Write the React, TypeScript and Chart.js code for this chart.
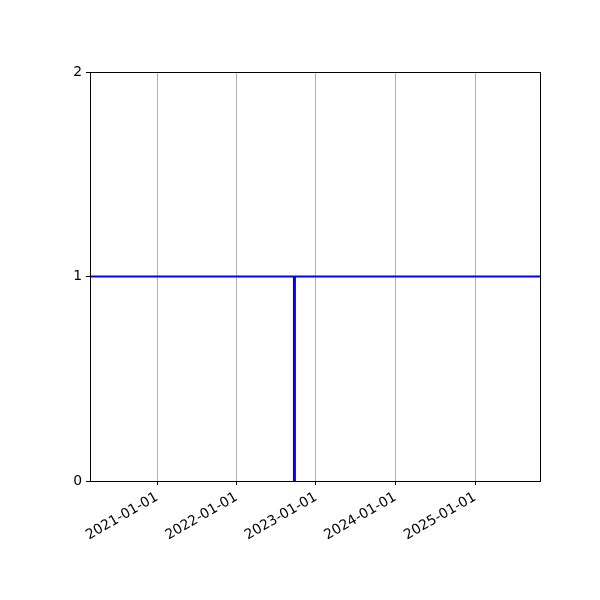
import React, { useEffect, useRef } from "react";
import { Chart, registerables } from "chart.js";

Chart.register(...registerables);

const xRange = ["2020-02-28", "2025-10-26"];
const tickDates = ["2021-01-01", "2022-01-01", "2023-01-01", "2024-01-01", "2025-01-01"];
const eventDate = "2022-09-24";
const baseLevel = 1;
const eventRange = [0, 1];
const yTicks = [0, 1, 2];

const ms = (d: string) => Date.parse(d + "T00:00:00Z");
const fmt = (v: number) => new Date(v).toISOString().slice(0, 10);

const FONT = "'DejaVu Sans', sans-serif";

const framePlugin = {
  id: "frame",
  afterDraw(chart: any) {
    const { ctx, chartArea } = chart;
    ctx.save();
    ctx.strokeStyle = "#000";
    ctx.lineWidth = 1;
    ctx.strokeRect(
      Math.round(chartArea.left) + 0.5,
      Math.round(chartArea.top) + 0.5,
      Math.round(chartArea.right - chartArea.left),
      Math.round(chartArea.bottom - chartArea.top)
    );
    ctx.restore();
  },
};

export default function App() {
  const ref = useRef<HTMLCanvasElement | null>(null);
  useEffect(() => {
    if (!ref.current) return;
    const xmin = ms(xRange[0]);
    const xmax = ms(xRange[1]);
    const chart = new Chart(ref.current, {
      type: "line",
      data: {
        datasets: [
          {
            data: [
              { x: xmin, y: baseLevel },
              { x: xmax, y: baseLevel },
            ],
            borderColor: "#0000ff",
            borderWidth: 2,
            pointRadius: 0,
          },
          {
            data: [
              { x: ms(eventDate), y: eventRange[0] },
              { x: ms(eventDate), y: eventRange[1] },
            ],
            borderColor: "#0000ff",
            borderWidth: 3,
            pointRadius: 0,
          },
        ],
      },
      options: {
        animation: false,
        responsive: false,
        devicePixelRatio: 1,
        layout: { padding: { top: 72, right: 60, left: 0, bottom: 0 } },
        plugins: { legend: { display: false }, tooltip: { enabled: false } },
        scales: {
          x: {
            type: "linear",
            min: xmin,
            max: xmax,
            afterBuildTicks: (s: any) => {
              s.ticks = tickDates.map((d) => ({ value: ms(d) }));
            },
            afterFit: (s: any) => {
              s.height = 119;
            },
            ticks: {
              callback: (v: any) => fmt(Number(v)),
              minRotation: 30,
              maxRotation: 30,
              color: "#000",
              padding: 4,
              font: { family: FONT, size: 13.9 },
            },
            grid: {
              color: "#b0b0b0",
              lineWidth: 1,
              tickColor: "#000",
              tickLength: 4,
            },
            border: { display: true, color: "#000" },
          },
          y: {
            type: "linear",
            min: yTicks[0],
            max: yTicks[yTicks.length - 1],
            afterBuildTicks: (s: any) => {
              s.ticks = yTicks.map((v) => ({ value: v }));
            },
            afterFit: (s: any) => {
              s.width = 90;
            },
            ticks: {
              color: "#000",
              padding: 4,
              font: { family: FONT, size: 13.9 },
            },
            grid: {
              drawOnChartArea: false,
              tickColor: "#000",
              tickLength: 4,
            },
            border: { display: true, color: "#000" },
          },
        },
      },
      plugins: [framePlugin],
    } as any);
    return () => chart.destroy();
  }, []);
  return (
    <div style={{ position: "absolute", left: 0, top: 0, width: 600, height: 600, background: "#fff" }}>
      <canvas ref={ref} width={600} height={600} />
    </div>
  );
}
